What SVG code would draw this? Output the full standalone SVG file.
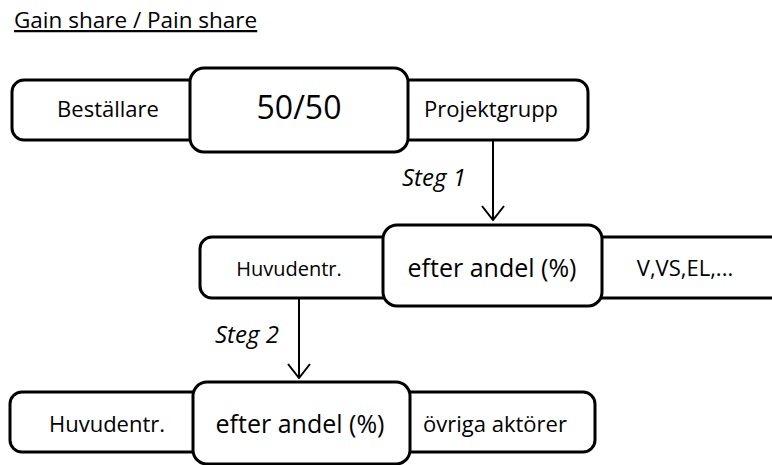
<svg xmlns="http://www.w3.org/2000/svg" width="772" height="465" viewBox="0 0 772 465">
  <defs>
    <style>
      .box { fill: #fff; stroke: #000; stroke-width: 3; }
      .lbl { font-family: "Open Sans", "Liberation Sans", sans-serif; font-size: 22px; fill: #000; text-anchor: middle; }
      .mid { font-size: 20px; }
      .big { font-size: 25px; }
      .huge { font-size: 32px; }
      .step { font-family: "Open Sans", "Liberation Sans", sans-serif; font-size: 24px; font-style: italic; fill: #000; }
      .wire { stroke: #000; stroke-width: 2; fill: none; }
    </style>
    <marker id="arrow" viewBox="0 0 16 24" refX="15" refY="12" markerWidth="16" markerHeight="24" markerUnits="userSpaceOnUse" orient="auto">
      <path d="M1,1 L15,12 L1,23" fill="none" stroke="#000" stroke-width="2"/>
    </marker>
  </defs>
  <rect width="772" height="465" fill="#fff"/>

  <!-- title -->
  <text x="14" y="28" font-family="Open Sans, Liberation Sans, sans-serif" font-size="22.5" text-decoration="underline" fill="#000">Gain share / Pain share</text>

  <!-- level 1 -->
  <g id="row1">
    <rect class="box" x="12" y="80" width="576" height="60" rx="12"/>
    <text class="lbl" x="108" y="117">Beställare</text>
    <text class="lbl" x="491" y="117">Projektgrupp</text>
  </g>
  <g id="share1">
    <rect class="box" x="190" y="68" width="218" height="84" rx="14"/>
    <text class="lbl huge" x="299" y="119">50/50</text>
  </g>

  <!-- level 2 -->
  <g id="row2">
    <rect class="box" x="200" y="237" width="590" height="61" rx="12"/>
    <text class="lbl mid" x="289" y="276">Huvudentr.</text>
    <text class="lbl" x="685" y="276">V,VS,EL,...</text>
  </g>
  <g id="share2">
    <rect class="box" x="383" y="225" width="219" height="81" rx="14"/>
    <text class="lbl big" x="492" y="277">efter andel (%)</text>
  </g>

  <!-- level 3 -->
  <g id="row3">
    <rect class="box" x="10" y="392" width="585" height="60" rx="12"/>
    <text class="lbl" x="107" y="432">Huvudentr.</text>
    <text class="lbl" x="495" y="432">övriga aktörer</text>
  </g>
  <g id="share3">
    <rect class="box" x="193" y="382" width="217" height="82" rx="14"/>
    <text class="lbl big" x="300" y="433">efter andel (%)</text>
  </g>

  <!-- connectors -->
  <g id="connectors">
    <line class="wire" x1="493" y1="141" x2="493" y2="220" marker-end="url(#arrow)"/>
    <text class="step" x="402" y="186">Steg 1</text>
    <line class="wire" x1="299" y1="299" x2="299" y2="378" marker-end="url(#arrow)"/>
    <text class="step" x="215" y="343">Steg 2</text>
  </g>
</svg>
